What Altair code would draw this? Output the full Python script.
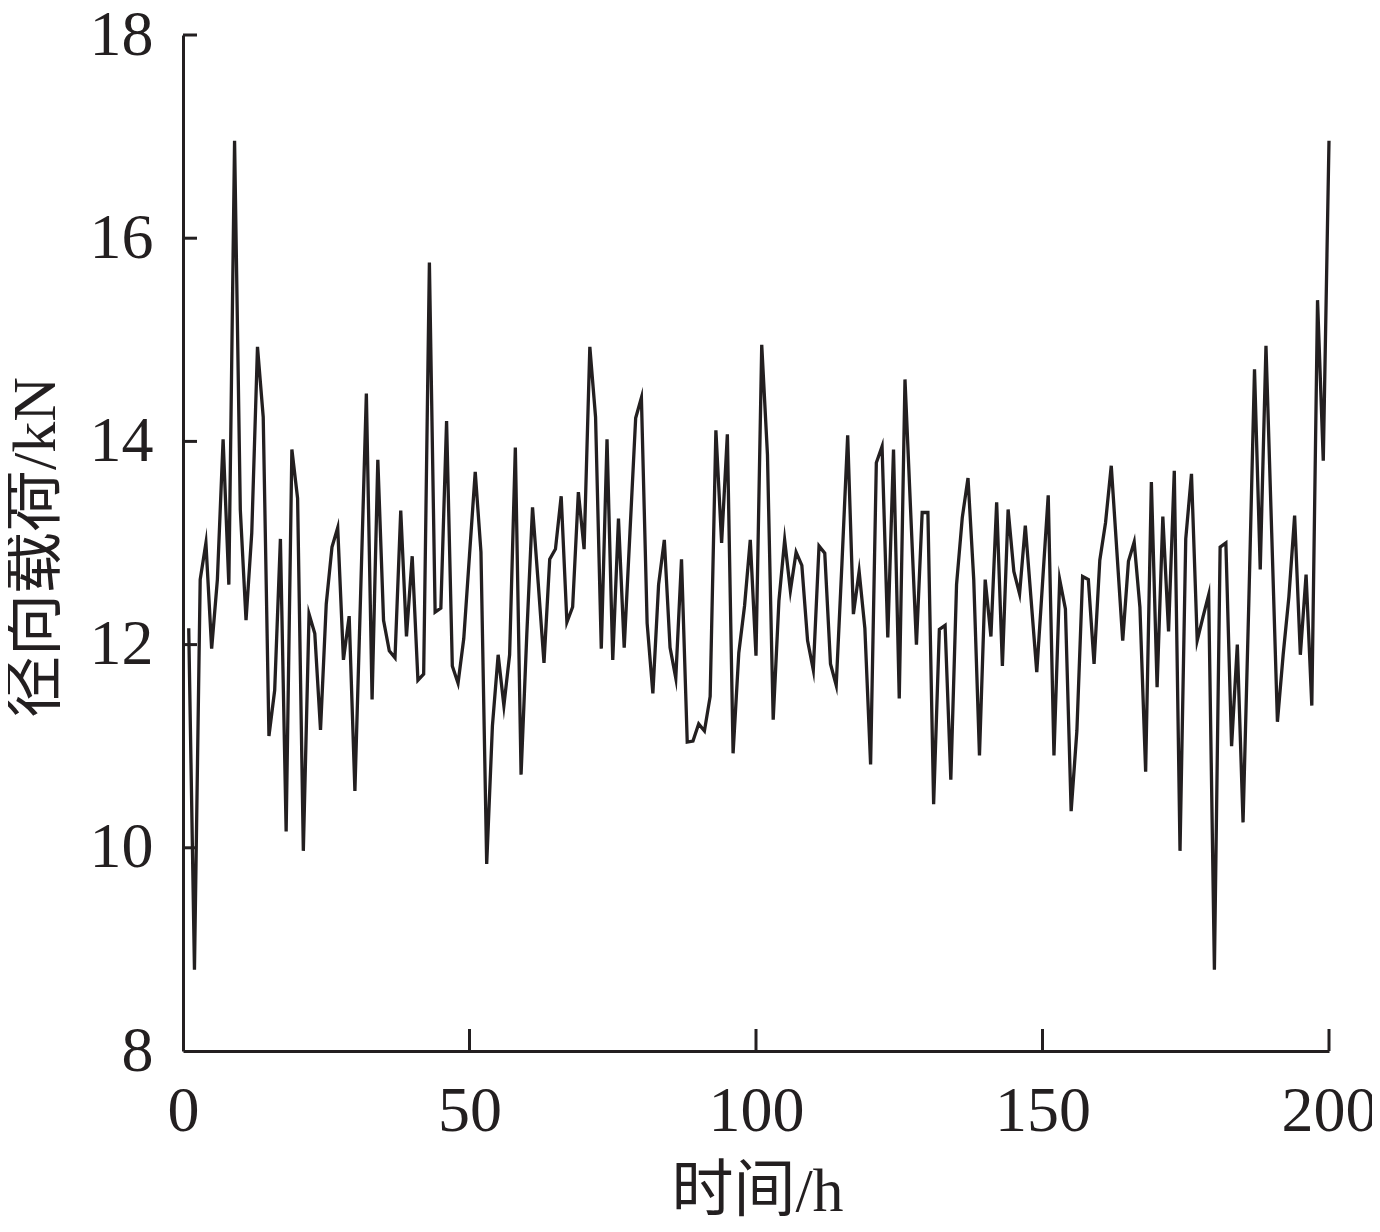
import altair as alt
import pandas as pd

# time (h) and radial load (kN)
time_h = list(range(1, 201))
load_kn = [
    12.16, 8.80, 12.64, 13.00, 11.96, 12.64, 14.02, 12.59, 16.96, 13.33,
    12.24, 13.10, 14.93, 14.24, 11.10, 11.55, 13.04, 10.16, 13.92, 13.44,
    9.97, 12.30, 12.11, 11.16, 12.40, 12.96, 13.15, 11.85, 12.28, 10.56,
    12.50, 14.47, 11.46, 13.82, 12.24, 11.94, 11.87, 13.32, 12.08, 12.87,
    11.65, 11.71, 15.76, 12.32, 12.36, 14.20, 11.79, 11.62, 12.06, 12.88,
    13.70, 12.91, 9.84, 11.20, 11.90, 11.40, 11.90, 13.94, 10.72, 12.10,
    13.35, 12.60, 11.82, 12.84, 12.94, 13.46, 12.22, 12.37, 13.50, 12.94,
    14.93, 14.24, 11.96, 14.02, 11.85, 13.24, 11.97, 13.10, 14.23, 14.43,
    12.21, 11.52, 12.59, 13.03, 11.97, 11.67, 12.84, 11.04, 11.05, 11.22,
    11.15, 11.49, 14.11, 13.00, 14.07, 10.93, 11.92, 12.38, 13.03, 11.89,
    14.95, 13.87, 11.26, 12.43, 13.03, 12.53, 12.91, 12.78, 12.04, 11.75,
    12.97, 12.90, 11.81, 11.60, 12.80, 14.06, 12.30, 12.72, 12.16, 10.82,
    13.79, 13.95, 12.07, 13.92, 11.47, 14.61, 13.30, 12.00, 13.30, 13.30,
    10.43, 12.15, 12.19, 10.67, 12.59, 13.25, 13.64, 12.64, 10.91, 12.64,
    12.08, 13.40, 11.79, 13.33, 12.72, 12.50, 13.17, 12.45, 11.73, 12.60,
    13.47, 10.91, 12.64, 12.35, 10.36, 11.15, 12.67, 12.64, 11.81, 12.83,
    13.20, 13.76, 12.90, 12.04, 12.82, 13.01, 12.37, 10.75, 13.60, 11.58,
    13.26, 12.13, 13.71, 9.97, 13.04, 13.68, 12.04, 12.27, 12.49, 8.80,
    12.96, 13.00, 11.00, 12.00, 10.25, 12.40, 14.71, 12.74, 14.94, 13.10,
    11.24, 11.90, 12.47, 13.27, 11.90, 12.69, 11.40, 15.39, 13.81, 16.96,
]
x_ticks = [0, 50, 100, 150, 200]
y_ticks = [8, 10, 12, 14, 16, 18]
x_inner_ticks = [50, 100, 150, 200]
y_inner_ticks = [10, 12, 14, 16, 18]

INK = "#231f20"
FONT = "Liberation Serif, Noto Sans CJK SC"
W, H = 1146, 1016

df = pd.DataFrame({"t": time_h, "load": load_kn})
xt = pd.DataFrame({"v": x_inner_ticks})
yt = pd.DataFrame({"v": y_inner_ticks})

xscale = alt.Scale(domain=[0, 200], nice=False, zero=False)
yscale = alt.Scale(domain=[8, 18], nice=False, zero=False)

line = alt.Chart(df).mark_line(color=INK, strokeWidth=3.3, strokeJoin="miter", strokeMiterLimit=10).encode(
    x=alt.X("t:Q", scale=xscale,
            axis=alt.Axis(values=x_ticks, format="d", title="时间/h", ticks=False, grid=False,
                          domainColor=INK, domainWidth=3,
                          labelFont=FONT, labelFontSize=64, labelColor=INK,
                          labelPadding=28, labelFlush=False,
                          titleFont=FONT, titleFontSize=62, titleFontWeight="normal",
                          titleColor=INK, titleX=574, titleY=140,
                          titleBaseline="middle", titleAlign="center")),
    y=alt.Y("load:Q", scale=yscale,
            axis=alt.Axis(values=y_ticks, format="d", title="径向载荷/kN", ticks=False, grid=False,
                          domainColor=INK, domainWidth=3,
                          labelFont=FONT, labelFontSize=64, labelColor=INK,
                          labelPadding=30, labelFlush=False,
                          titleFont=FONT, titleFontSize=62, titleFontWeight="normal",
                          titleColor=INK, titleX=-148, titleY=512, titleAngle=-90,
                          titleBaseline="middle", titleAlign="center")),
)

xtick_marks = alt.Chart(xt).mark_rule(color=INK, strokeWidth=3).encode(
    x=alt.X("v:Q", scale=xscale),
    y=alt.value(H),
    y2=alt.value(H - 22),
)
ytick_marks = alt.Chart(yt).mark_rule(color=INK, strokeWidth=3).encode(
    y=alt.Y("v:Q", scale=yscale),
    x=alt.value(0),
    x2=alt.value(14),
)

chart = alt.layer(line, xtick_marks, ytick_marks).properties(
    width=W, height=H,
    autosize=alt.AutoSizeParams(type="none"),
    padding={"left": 175, "top": 27, "right": 43, "bottom": 173},
    background="white",
).configure_view(stroke=None)

chart.save("out.html", embed_options={"renderer": "svg", "actions": False})
